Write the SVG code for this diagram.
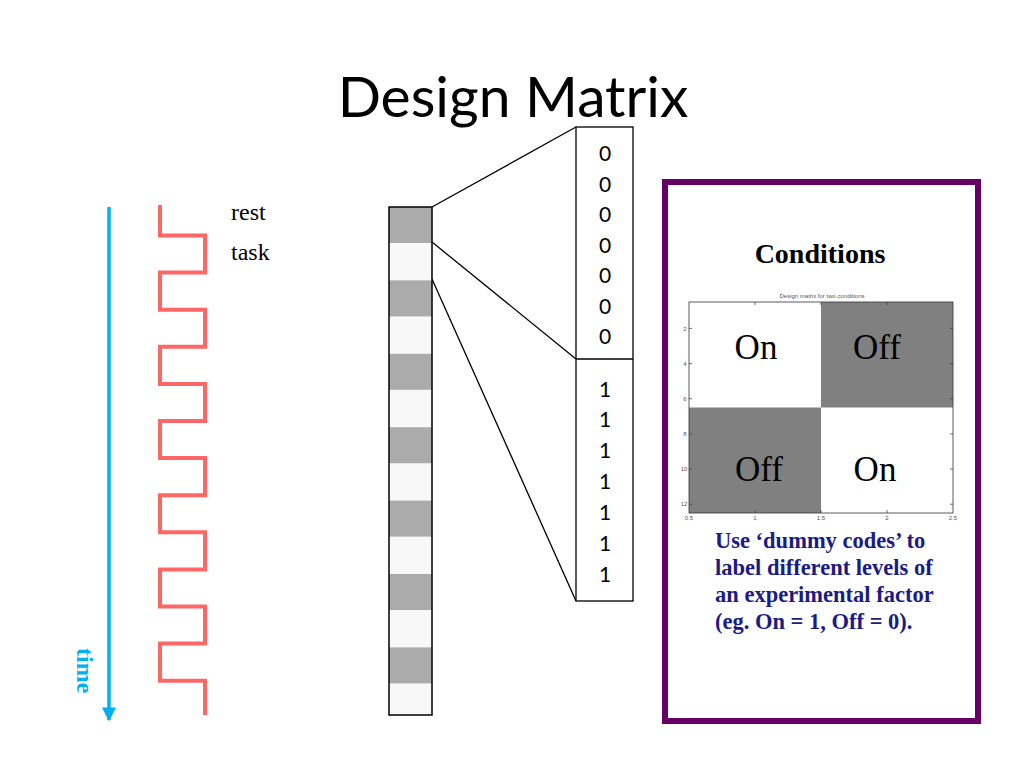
<svg xmlns="http://www.w3.org/2000/svg" width="1024" height="768" viewBox="0 0 1024 768">
<defs>
<style>
.title{font-family:Lato,"Open Sans",sans-serif;font-size:57px;fill:#000}
.lbl{font-family:"Liberation Serif",serif;font-size:24px;fill:#000}
.num{font-family:Lato,"Open Sans",sans-serif;font-size:21px;fill:#000;text-anchor:middle}
.cell{font-family:"Liberation Serif",serif;font-size:35px;fill:#000;text-anchor:middle}
.tick{font-family:"Liberation Sans",sans-serif;font-size:6px;fill:#555;text-anchor:middle}
.note{font-family:"Liberation Serif",serif;font-size:22.5px;font-weight:bold;fill:#1B1B85}
.conn{stroke:#000;stroke-width:1.3;fill:none}
.g{fill:#ABABAB}
</style>
<marker id="ah" viewBox="0 0 10 10" refX="9" refY="5" markerWidth="4" markerHeight="4" orient="auto" markerUnits="strokeWidth">
<path d="M0,0 L10,5 L0,10 z" fill="#00B0F0"/>
</marker>
</defs>
<rect width="1024" height="768" fill="#fff"/>
<text class="title" x="513" y="117" text-anchor="middle">Design Matrix</text>

<g id="time-axis">
<line x1="109" y1="207" x2="109" y2="720" stroke="#00B0F0" stroke-width="3.5" marker-end="url(#ah)"/>
<text x="77" y="648" transform="rotate(90 77 648)" font-family="Liberation Serif,serif" font-size="24" font-weight="bold" fill="#00B0F0">time</text>
</g>

<g id="wave">
<path d="M160,205 V235.5 H205 V272.6 H160 V309.7 H205 V346.8 H160 V383.9 H205 V421 H160 V458.1 H205 V495.2 H160 V532.3 H205 V569.4 H160 V606.5 H205 V643.6 H160 V680.7 H205 V715" fill="none" stroke="#FF6666" stroke-width="4"/>
</g>

<g id="labels">
<text class="lbl" x="231" y="220">rest</text>
<text class="lbl" x="231" y="260">task</text>
</g>

<g id="strip">
<rect x="389" y="207" width="43" height="508" fill="#F8F8F8"/>
<rect class="g" x="389" y="207" width="43" height="36"/>
<rect class="g" x="389" y="280.4" width="43" height="36"/>
<rect class="g" x="389" y="353.8" width="43" height="36"/>
<rect class="g" x="389" y="427.2" width="43" height="36"/>
<rect class="g" x="389" y="500.6" width="43" height="36"/>
<rect class="g" x="389" y="574" width="43" height="36"/>
<rect class="g" x="389" y="647.4" width="43" height="36"/>
<rect x="389" y="207" width="43" height="508" fill="none" stroke="#000" stroke-width="1.5"/>
</g>

<g id="connectors">
<line class="conn" x1="432" y1="207" x2="576" y2="127"/>
<line class="conn" x1="432" y1="242" x2="576" y2="359"/>
<line class="conn" x1="432" y1="279" x2="576" y2="601"/>
</g>

<g id="vector">
<rect x="576" y="127" width="57" height="474" fill="#fff" stroke="#000" stroke-width="1.3"/>
<line x1="576" y1="359" x2="633" y2="359" stroke="#000" stroke-width="1.3"/>
<text class="num" x="605" y="161">0</text>
<text class="num" x="605" y="192">0</text>
<text class="num" x="605" y="222">0</text>
<text class="num" x="605" y="253">0</text>
<text class="num" x="605" y="283">0</text>
<text class="num" x="605" y="314">0</text>
<text class="num" x="605" y="344">0</text>
<text class="num" x="605" y="397">1</text>
<text class="num" x="605" y="427">1</text>
<text class="num" x="605" y="458">1</text>
<text class="num" x="605" y="489">1</text>
<text class="num" x="605" y="520">1</text>
<text class="num" x="605" y="551">1</text>
<text class="num" x="605" y="582">1</text>
</g>

<g id="conditions-panel">
<rect x="665" y="182" width="313" height="539" fill="#fff" stroke="#660066" stroke-width="6"/>
<text x="820" y="263" font-family="Liberation Serif,serif" font-size="28" font-weight="bold" text-anchor="middle">Conditions</text>
<text x="822" y="298" font-family="Liberation Sans,sans-serif" font-size="6" fill="#555" text-anchor="middle">Design matrix for two conditions</text>
<rect x="689" y="302" width="264" height="211" fill="#fff"/>
<rect x="821" y="302" width="132" height="105.5" fill="#808080"/>
<rect x="689" y="407.5" width="132" height="105.5" fill="#808080"/>
<rect x="689" y="302" width="264" height="211" fill="none" stroke="#333" stroke-width="0.8"/>
<g stroke="#333" stroke-width="0.7">
<path d="M689,328.4 h3 M689,363.6 h3 M689,398.7 h3 M689,433.9 h3 M689,469.1 h3 M689,504.2 h3"/>
<path d="M953,328.4 h-3 M953,363.6 h-3 M953,398.7 h-3 M953,433.9 h-3 M953,469.1 h-3 M953,504.2 h-3"/>
<path d="M755,513 v-3 M821,513 v-3 M887,513 v-3 M755,302 v3 M821,302 v3 M887,302 v3"/>
</g>
<text class="tick" x="685" y="330.5">2</text>
<text class="tick" x="685" y="365.5">4</text>
<text class="tick" x="685" y="400.5">6</text>
<text class="tick" x="685" y="436">8</text>
<text class="tick" x="684" y="471">10</text>
<text class="tick" x="684" y="506">12</text>
<text class="tick" x="689" y="520">0.5</text>
<text class="tick" x="755" y="520">1</text>
<text class="tick" x="821" y="520">1.5</text>
<text class="tick" x="887" y="520">2</text>
<text class="tick" x="953" y="520">2.5</text>
<text class="cell" x="756" y="359">On</text>
<text class="cell" x="877" y="359">Off</text>
<text class="cell" x="759" y="481">Off</text>
<text class="cell" x="875" y="481">On</text>
<text class="note" x="715" y="548">Use ‘dummy codes’ to</text>
<text class="note" x="715" y="575">label different levels of</text>
<text class="note" x="715" y="602">an experimental factor</text>
<text class="note" x="715" y="629">(eg. On = 1, Off = 0).</text>
</g>
</svg>
